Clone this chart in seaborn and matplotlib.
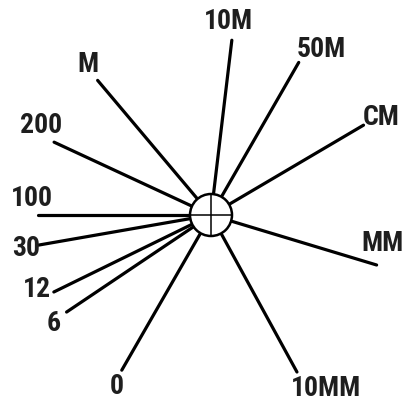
import numpy as np
import pandas as pd
import seaborn as sns
import matplotlib.pyplot as plt
from matplotlib.patches import Circle

# etiquetas de cada radio, ángulo (grados) y largo (px)
labels = ['10M', '50M', 'CM', 'MM', '10MM', '0', '6', '12', '30', '100', '200', 'M']
angles = [83.2, 60.1, 30.5, -16.8, -61.3, 240.1, 213.9, 206.1, 189.9, 180.0, 155.1, 130.1]
lengths = [176, 176, 177, 173, 179, 179, 174, 175, 175, 173, 173, 176]

# desplazamiento del texto respecto a la punta del radio (px)
label_dx = [-3, 23, 18, 6, 29, -5, -13, -17, -12, -6, -13, -10]
label_dy = [19, 13, 8, 22, -16, -16, -11, 2, -3, 16, 17, 16]

W, H = 406, 403
cx, cy = 211, H - 215
r = 21

rows = []
for lab, ang, ln in zip(labels, angles, lengths):
    a = np.deg2rad(ang)
    rows.append({'label': lab, 'x': cx, 'y': cy})
    rows.append({'label': lab, 'x': cx + ln * np.cos(a), 'y': cy + ln * np.sin(a)})
df = pd.DataFrame(rows)

sns.set_style('white')
fig = plt.figure(figsize=(W / 100, H / 100), dpi=100)
ax = fig.add_axes([0, 0, 1, 1])
sns.lineplot(data=df, x='x', y='y', units='label', estimator=None, sort=False,
             color='black', linewidth=2.3, ax=ax, legend=False)

ax.add_patch(Circle((cx, cy), r, facecolor='white', edgecolor='black', linewidth=1.8, zorder=5))
ax.plot([cx - r, cx + r], [cy, cy], color='black', linewidth=1.1, zorder=6)
ax.plot([cx, cx], [cy - r, cy + r], color='black', linewidth=1.1, zorder=6)

ends = df.iloc[1::2].reset_index(drop=True)
for i, lab in enumerate(labels):
    ax.text(ends.loc[i, 'x'] + label_dx[i], ends.loc[i, 'y'] + label_dy[i], lab,
            ha='center', va='center', fontsize=20, fontweight='bold',
            family=['Roboto Condensed', 'DejaVu Sans'], color='#1e1e1e')

ax.set_xlim(0, W)
ax.set_ylim(0, H)
ax.axis('off')
plt.savefig('out.png', dpi=100)
